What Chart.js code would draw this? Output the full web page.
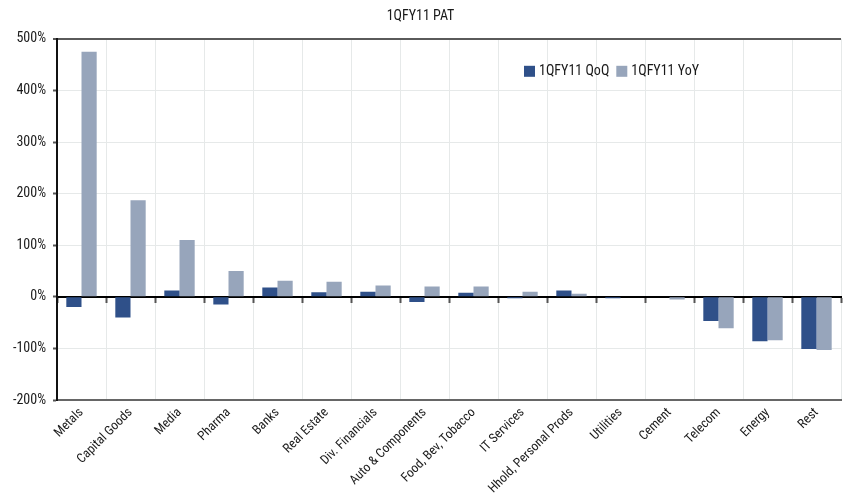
<!DOCTYPE html>
<html>
<head>
<meta charset="utf-8">
<script src="https://cdn.jsdelivr.net/npm/chart.js@4/dist/chart.umd.min.js"></script>
<style>
  html, body { margin: 0; padding: 0; background: #fff; }
  #wrap { width: 843px; height: 503px; }
</style>
</head>
<body>
<div id="wrap"><canvas id="c" width="843" height="503"></canvas></div>
<script>
// Sector profit growth, 1QFY11
const categories = ["Metals", "Capital Goods", "Media", "Pharma", "Banks", "Real Estate",
  "Div. Financials", "Auto & Components", "Food, Bev, Tobacco", "IT Services",
  "Hhold, Personal Prods", "Utilities", "Cement", "Telecom", "Energy", "Rest"];
const qoq = [-20, -40, 12, -15, 18, 9, 10, -10, 8, -3, 12, -3, 0, -47, -86, -101];
const yoy = [475, 187, 110, 50, 31, 29, 22, 20, 20, 10, 6, 0, -5, -61, -84, -103];
const seriesNames = ["1QFY11 QoQ", "1QFY11 YoY"];
const yTicks = [-200, -100, 0, 100, 200, 300, 400, 500];

// condensed width of Roboto; passed through the weight slot of the font shorthand
const FONT = 'Roboto, "DejaVu Sans Condensed", sans-serif';
const STRETCH = 'condensed';
const DARK = '#2F5089';
const LIGHT = '#97A5BB';
const TEXT = '#1a1a1a';

// Legend drawn inside the plot area, upper right
const innerLegend = {
  id: 'innerLegend',
  afterDraw(chart) {
    const ctx = chart.ctx;
    const area = chart.chartArea;
    ctx.save();
    ctx.font = STRETCH + ' 14px ' + FONT;
    ctx.textBaseline = 'middle';
    let x = area.left + 467;
    const y = area.top + 32;
    chart.data.datasets.forEach(ds => {
      ctx.fillStyle = ds.backgroundColor;
      ctx.fillRect(x, y - 5, 11, 11);
      ctx.fillStyle = TEXT;
      ctx.fillText(ds.label, x + 15, y + 1);
      x += 15 + ctx.measureText(ds.label).width + 7;
    });
    ctx.restore();
  }
};

new Chart(document.getElementById('c'), {
  type: 'bar',
  data: {
    labels: categories,
    datasets: [
      { label: seriesNames[0], data: qoq, backgroundColor: DARK, categoryPercentage: 0.62, barPercentage: 1.0 },
      { label: seriesNames[1], data: yoy, backgroundColor: LIGHT, categoryPercentage: 0.62, barPercentage: 1.0 }
    ]
  },
  options: {
    responsive: false,
    animation: false,
    layout: { padding: { left: 0, right: 2, top: 0, bottom: 0 } },
    plugins: {
      legend: { display: false },
      tooltip: { enabled: false },
      title: {
        display: true,
        text: '1QFY11 PAT',
        color: TEXT,
        font: { family: FONT, size: 14, weight: STRETCH },
        padding: { top: 8, bottom: 14 }
      }
    },
    scales: {
      x: {
        type: 'category',
        position: 'bottom',
        offset: true,
        grid: { display: true, offset: true, color: '#e6e9e9', lineWidth: 1, drawTicks: false },
        border: { display: true, color: '#666', width: 2 },
        ticks: {
          color: TEXT,
          font: { family: FONT, size: 13, weight: STRETCH },
          minRotation: 45, maxRotation: 45,
          autoSkip: false,
          padding: 5
        },
        afterFit(scale) { scale.height = 103; }
      },
      x0: {
        type: 'category',
        position: { y: 0 },
        offset: true,
        z: 1,
        grid: { display: true, offset: true, drawOnChartArea: false, tickLength: 5, tickColor: '#555', tickWidth: 2 },
        border: { display: true, color: '#000', width: 2 },
        ticks: { display: false }
      },
      y: {
        min: -200, max: 500,
        afterBuildTicks(scale) { scale.ticks = yTicks.map(v => ({ value: v })); },
        grid: {
          color: ctx => (ctx.tick && ctx.tick.value === 500) ? '#5a5a5a' : '#e6e9e9',
          lineWidth: ctx => (ctx.tick && ctx.tick.value === 500) ? 2 : 1,
          tickLength: 4,
          tickColor: '#555',
          tickWidth: 2
        },
        border: { display: true, color: '#111', width: 2 },
        ticks: {
          color: TEXT,
          font: { family: FONT, size: 14, weight: STRETCH },
          padding: 7,
          callback: v => v + '%'
        },
        afterFit(scale) { scale.width = 57; }
      }
    }
  },
  plugins: [innerLegend]
});
</script>
</body>
</html>
